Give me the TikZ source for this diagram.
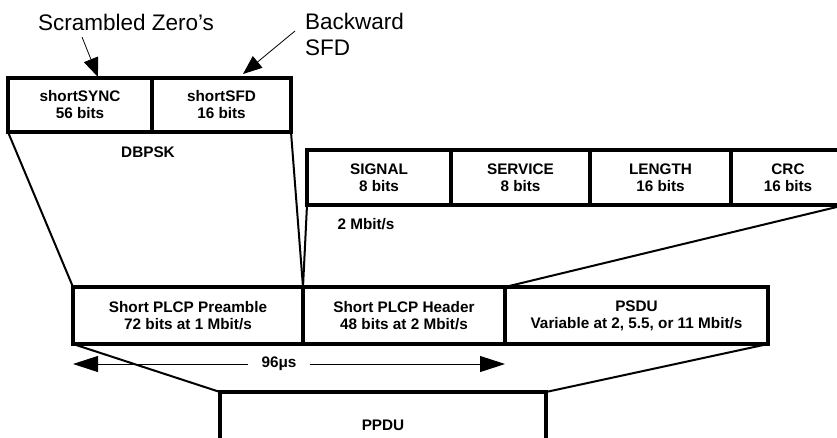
\documentclass[tikz,border=0pt]{standalone}
\usepackage{fontspec}
\setmainfont{Liberation Sans}
\usetikzlibrary{arrows.meta,calc}
\newcommand{\boxfnt}{\bfseries\fontsize{15.3}{17}\selectfont}
\newcommand{\annfnt}{\fontsize{22.5}{26}\selectfont}
\begin{document}
\begin{tikzpicture}[x=1pt,y=-1pt,
  field/.style={draw, line width=3.2pt, anchor=north west, inner sep=0pt, outer sep=0pt, align=center, font=\boxfnt},
  conn/.style={line width=2pt},
  lbl/.style={inner sep=0pt, font=\boxfnt},
  ann/.style={inner sep=0pt, font=\annfnt},
  annarrow/.style={line width=0.8pt, -{Triangle[length=19pt,width=15pt]}},
  dimarrow/.style={line width=0.9pt, -{Triangle[length=25pt,width=16pt]}}
]
\useasboundingbox (0,0) rectangle (837,437);
\clip (0,0) rectangle (837,437);

% top: preamble fields
\node[field, minimum width=144pt, minimum height=54pt] (sync) at (8,78) {shortSYNC\\56 bits};
\node[field, minimum width=139pt, minimum height=54pt] (sfd) at (152,78) {shortSFD\\16 bits};
\node[lbl] (dbpsk) at (148,152) {DBPSK};

% header fields
\node[field, minimum width=144pt, minimum height=55pt] (sig) at (307,150) {SIGNAL\\8 bits};
\node[field, minimum width=139pt, minimum height=55pt] (serv) at (451,150) {SERVICE\\8 bits};
\node[field, minimum width=141pt, minimum height=55pt] (len) at (590,150) {LENGTH\\16 bits};
\node[field, minimum width=114pt, minimum height=55pt] (crc) at (731,150) {CRC\\16 bits};
\node[lbl] (rate) at (366,224) {2 Mbit/s};

% PPDU parts
\node[field, minimum width=230pt, minimum height=57pt] (pre) at (73,287) {Short PLCP Preamble\\72 bits at 1 Mbit/s};
\node[field, minimum width=202pt, minimum height=57pt] (hdr) at (303,287) {Short PLCP Header\\48 bits at 2 Mbit/s};
\node[field, minimum width=263pt, minimum height=57pt] (psdu) at (505,287) {PSDU\\Variable at 2, 5.5, or 11 Mbit/s};

\node[field, minimum width=326pt, minimum height=66pt] (ppdu) at (220,392) {PPDU};

% expansion lines
\draw[conn] (sync.south west) -- (pre.north west);
\draw[conn] (sfd.south east) -- (pre.north east);
\draw[conn] (sig.south west) -- (pre.north east);
\draw[conn] (crc.south east) -- (psdu.north west);
\draw[conn] (pre.south west) -- (ppdu.north west);
\draw[conn] (psdu.south east) -- (ppdu.north east);

% duration
\node[lbl, inner xsep=13pt, inner ysep=2pt] (dur) at (279,364) {96μs};
\draw[dimarrow] (dur.west) -- (pre.south west |- dur.west);
\draw[dimarrow] (dur.east) -- (hdr.south east |- dur.east);

% annotations
\node[ann, anchor=base] (scr) at (126,30) {Scrambled Zero's};
\node[ann, anchor=west, align=left] (bsfd) at (305,34) {Backward\\SFD};
\coordinate (scrfrom) at (82,37);
\coordinate (bsfdfrom) at (295,31);
\draw[annarrow] (scrfrom) -- ($(sync.north west)+(90,-1)$);
\draw[annarrow] (bsfdfrom) -- ($(sfd.north west)+(91,-4)$);
\end{tikzpicture}
\end{document}
